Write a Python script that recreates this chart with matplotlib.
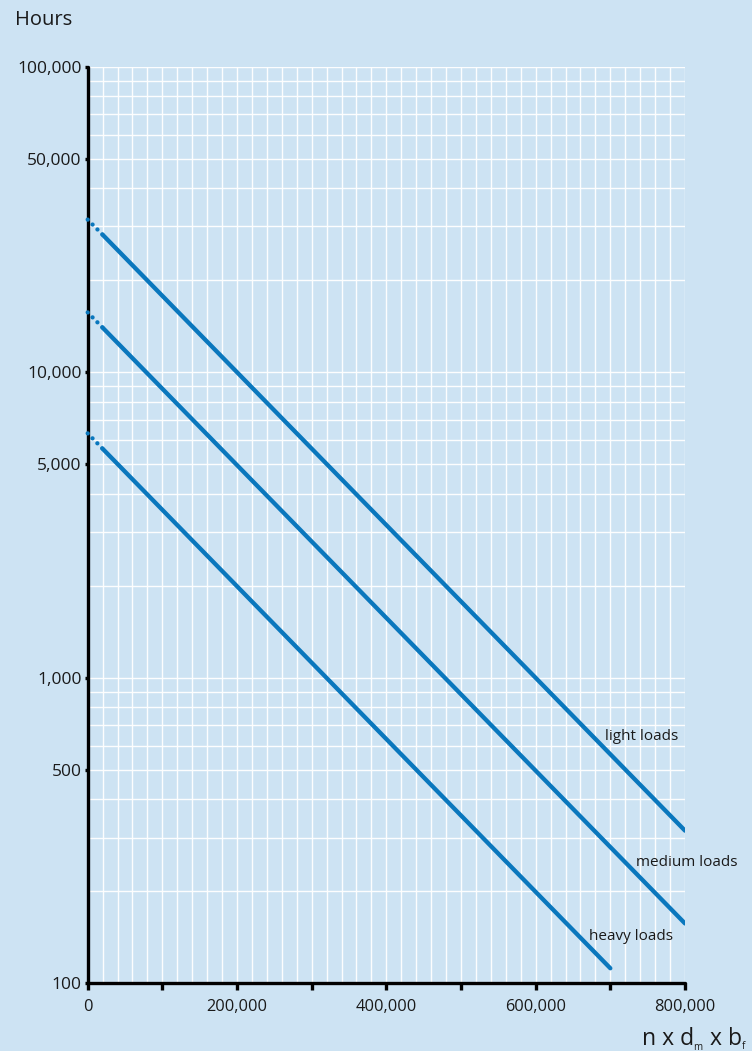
import matplotlib
matplotlib.use("Agg")
import matplotlib.pyplot as plt
from matplotlib.ticker import FixedLocator, MultipleLocator, LogLocator, NullFormatter

# ---- data ----
load_names = ["light loads", "medium loads", "heavy loads"]
light_x = [0, 20000, 800000]
light_hours = [31600, 28200, 316]
medium_x = [0, 20000, 800000]
medium_hours = [15700, 14000, 157]
heavy_x = [0, 20000, 700000]
heavy_hours = [6310, 5620, 112]

y_tick_values = [100, 500, 1000, 5000, 10000, 50000, 100000]
y_tick_labels = ["100", "500", "1,000", "5,000", "10,000", "50,000", "100,000"]
x_tick_values = [0, 100000, 200000, 300000, 400000, 500000, 600000, 700000, 800000]
x_tick_labels = ["0", "", "200,000", "", "400,000", "", "600,000", "", "800,000"]

bg = "#cde3f3"
line_color = "#0a77bd"
text_color = "#1a1a1a"
FONT = ["Open Sans", "DejaVu Sans"]

W, H = 752, 1051
fig = plt.figure(figsize=(W / 100, H / 100), dpi=100, facecolor=bg)
ax = fig.add_axes([0.1166, 0.0644, 0.9109 - 0.1166, 0.9365 - 0.0644])
ax.set_facecolor(bg)

ax.set_yscale("log")
ax.set_xlim(0, 800000)
ax.set_ylim(100, 100000)

for xs, ys in [(light_x, light_hours), (medium_x, medium_hours), (heavy_x, heavy_hours)]:
    ax.plot(xs[:2], ys[:2], color=line_color, lw=3.1, linestyle=(0, (0.01, 1.6)),
            dash_capstyle="round", zorder=3, clip_on=False)
    ax.plot(xs[1:], ys[1:], color=line_color, lw=3.1, solid_capstyle="round", zorder=3)

ax.yaxis.set_major_locator(FixedLocator(y_tick_values))
ax.yaxis.set_minor_locator(LogLocator(base=10, subs=[1, 2, 3, 4, 5, 6, 7, 8, 9], numticks=20))
ax.yaxis.set_minor_formatter(NullFormatter())
ax.set_yticklabels(y_tick_labels)
ax.xaxis.set_major_locator(FixedLocator(x_tick_values))
ax.xaxis.set_minor_locator(MultipleLocator(20000))
ax.set_xticklabels(x_tick_labels)

ax.grid(True, which="both", color="white", lw=1.0, alpha=0.95, zorder=0)
ax.set_axisbelow(True)

for s in ["top", "right"]:
    ax.spines[s].set_visible(False)
for s in ["left", "bottom"]:
    ax.spines[s].set_linewidth(2.4)
    ax.spines[s].set_color("black")
    ax.spines[s].set_capstyle("round")

ax.tick_params(axis="y", which="major", length=2.5, width=2.4, color="black", pad=2,
               labelsize=12.5, labelcolor=text_color)
ax.tick_params(axis="x", which="major", length=5, width=2.4, color="black", pad=6,
               labelsize=11.8, labelcolor=text_color)
ax.tick_params(which="minor", length=0)

for lab in ax.get_yticklabels() + ax.get_xticklabels():
    lab.set_family(FONT)

fig.text(15 / W, 1 - 20 / H, "Hours", fontsize=14.5, color=text_color,
         family=FONT, ha="left", va="center")

# x-axis label built from pieces (small, low subscripts)
renderer = fig.canvas.get_renderer()
pieces = [("n x d", 16.5, 0), ("m", 7, -5), (" x b", 16.5, 0), ("f", 7, -4)]
cur_x = 641.5
base_y = 1045
for txt, size, dy in pieces:
    t = fig.text(cur_x / W, 1 - (base_y - dy) / H, txt, fontsize=size, color=text_color,
                 family=FONT, ha="left", va="baseline")
    bb = t.get_window_extent(renderer=renderer)
    cur_x += bb.width + (1 if size < 10 else 0)

label_pos = [(678, 737), (738, 862), (673, 936)]
for name, (px, py) in zip(load_names, label_pos):
    fig.text(px / W, 1 - py / H, name, fontsize=11, color=text_color,
             family=FONT, ha="right", va="center")

fig.savefig("out.png", dpi=100, facecolor=bg)
